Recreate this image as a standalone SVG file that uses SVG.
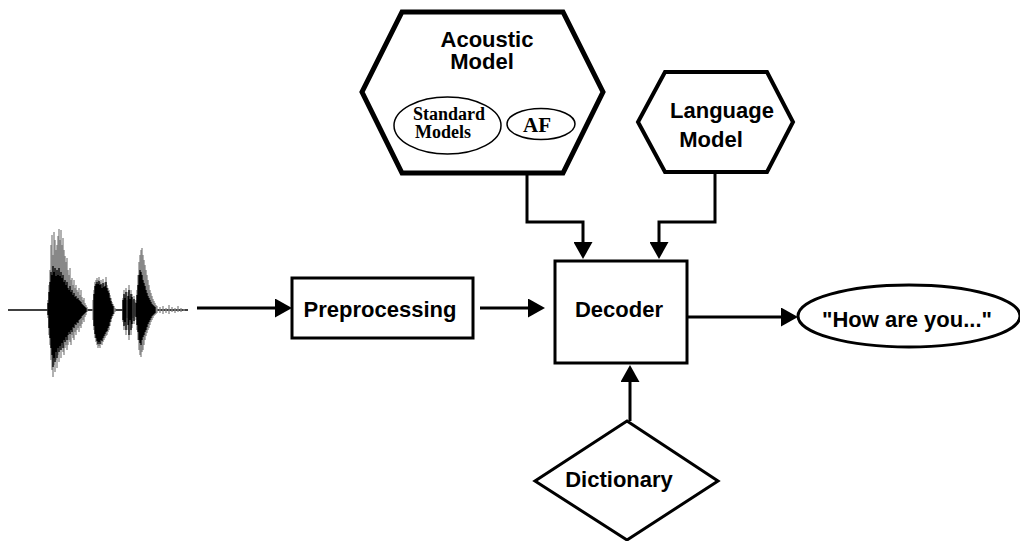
<svg xmlns="http://www.w3.org/2000/svg" width="1020" height="541" viewBox="0 0 1020 541">
<style>
.lbl{font-family:"Liberation Sans",Arial,sans-serif;font-weight:bold;font-size:22px;fill:#000;text-anchor:middle}
.tms{font-family:"Liberation Serif","Times New Roman",serif;font-weight:bold;fill:#000}
.shape{fill:#fff;stroke:#000}
.conn{fill:none;stroke:#000;stroke-width:3}
</style>
<defs>
<marker id="arr" markerUnits="userSpaceOnUse" markerWidth="17" markerHeight="19" refX="7" refY="9.5" orient="auto">
<path d="M0,0 L17,9.5 L0,19 z" fill="#000"/>
</marker>
</defs>
<rect width="1020" height="541" fill="#fff"/>
<g id="waveform">
<path d="M8,310 H188" stroke="#000" stroke-width="1.5" fill="none"/>
<path stroke="#888" stroke-width="1.3" fill="none" d="M48 300V318M49 285V335M50 270V345M51 245V360M52 235V370M53 255V377M54 232V365M55 240V372M56 250V360M57 245V368M58 236V355M59 229V362M60 240V350M61 230V358M62 245V345M63 238V352M64 250V355M65 256V348M66 262V345M67 258V350M68 270V345M69 275V340M70 268V342M71 280V345M72 278V335M73 285V338M74 280V340M75 288V332M76 285V335M77 290V330M78 292V328M79 288V332M80 295V326M81 290V328M82 297V324M83 300V320M84 298V322M85 303V317M86 305V315M87 307V312M93 300V320M94 290V330M95 282V338M96 280V342M97 278V345M98 280V348M99 277V346M100 282V348M101 280V344M102 285V345M103 279V342M104 283V340M105 282V338M106 277V336M107 285V335M108 288V332M109 290V330M110 295V326M111 298V322M112 302V318M113 304V316M114 306V314M115 308V312M123 298V322M124 290V330M125 295V325M126 288V335M127 300V318M128 292V330M129 285V340M130 296V322M131 290V335M132 294V328M133 300V318M134 296V324M135 302V316M136 300V320M137 290V330M138 275V340M139 262V350M140 255V355M141 250V357M142 248V352M143 255V350M144 260V345M145 265V340M146 270V336M147 275V333M148 280V330M149 285V328M150 290V325M151 293V322M152 296V320M153 299V318M154 301V316M155 303V315M156 305V314M157 306V313M160 307V313M163 306V314M166 308V313M169 305V314M172 307V312M175 308V313M178 306V312M181 308V312M184 309V311"/>
<path stroke="#000" stroke-width="1.3" fill="none" d="M48 303V315M49 292V328M50 282V338M51 272V348M52 275V355M53 266V367M54 272V358M55 268V362M56 276V352M57 270V358M58 275V348M59 268V352M60 276V346M61 272V350M62 278V343M63 275V348M64 282V340M65 280V342M66 285V337M67 282V340M68 288V335M69 290V332M70 286V334M71 292V330M72 290V332M73 295V327M74 293V328M75 297V324M76 296V325M77 299V322M78 298V323M79 300V320M80 301V319M81 302V318M82 304V316M83 305V315M84 306V314M85 307V313M86 308V312M94 294V326M95 286V334M96 284V338M97 282V341M98 284V344M99 281V342M100 285V344M101 284V340M102 288V341M103 283V338M104 287V336M105 286V334M106 282V332M107 288V331M108 291V328M109 293V326M110 298V322M111 301V319M112 304V316M113 306V314M123 300V320M124 294V326M125 298V322M126 292V330M128 296V325M129 290V335M130 299V320M131 294V330M132 297V324M134 299V321M136 303V317M137 295V325M138 285V332M139 275V340M140 270V343M141 272V345M142 275V340M143 280V337M144 283V335M145 286V332M146 290V330M147 293V327M148 296V324M149 298V322M150 300V320M151 302V318M152 304V316M153 305V315M154 306V314M155 307V313"/>
</g>
<g id="acoustic-model">
<polygon class="shape" stroke-width="5" points="402,12 563,12 603,92 563,173 402,173 362,92"/>
<text class="lbl" x="487" y="47">Acoustic</text>
<text class="lbl" x="482" y="69">Model</text>
</g>
<g id="standard-models">
<ellipse class="shape" stroke-width="1.5" cx="447.5" cy="125.5" rx="53.5" ry="28.5"/>
<text class="tms" font-size="18" x="413" y="120">Standard</text>
<text class="tms" font-size="18" x="415" y="138">Models</text>
</g>
<g id="af">
<ellipse class="shape" stroke-width="1.5" cx="541" cy="124" rx="34" ry="15.5"/>
<text class="tms" font-size="21" x="537" y="132" text-anchor="middle">AF</text>
</g>
<g id="language-model">
<polygon class="shape" stroke-width="4" points="665,72 767,72 793,122 767,172 665,172 638,122"/>
<text class="lbl" x="722" y="118">Language</text>
<text class="lbl" x="711" y="147">Model</text>
</g>
<g id="preprocessing">
<rect class="shape" stroke-width="3" x="292" y="278" width="181" height="60"/>
<text class="lbl" x="380" y="317">Preprocessing</text>
</g>
<g id="decoder">
<rect class="shape" stroke-width="3" x="555" y="261" width="132" height="102"/>
<text class="lbl" x="619" y="317">Decoder</text>
</g>
<g id="output">
<ellipse class="shape" stroke-width="3" cx="909" cy="316" rx="111" ry="31"/>
<text class="lbl" x="907" y="327">"How are you..."</text>
</g>
<g id="dictionary">
<polygon class="shape" stroke-width="3" points="627,421 718,481 627,540 535,481"/>
<text class="lbl" x="619" y="487">Dictionary</text>
</g>
<g id="connectors">
<path class="conn" marker-end="url(#arr)" d="M197,308 H282"/>
<path class="conn" marker-end="url(#arr)" d="M480,308 H535"/>
<path class="conn" marker-end="url(#arr)" d="M687,317 H788"/>
<path class="conn" marker-end="url(#arr)" d="M527,173 V222 H583 V249"/>
<path class="conn" marker-end="url(#arr)" d="M715,172 V222 H659 V249"/>
<path class="conn" marker-end="url(#arr)" d="M630,421 V375"/>
</g>
</svg>
